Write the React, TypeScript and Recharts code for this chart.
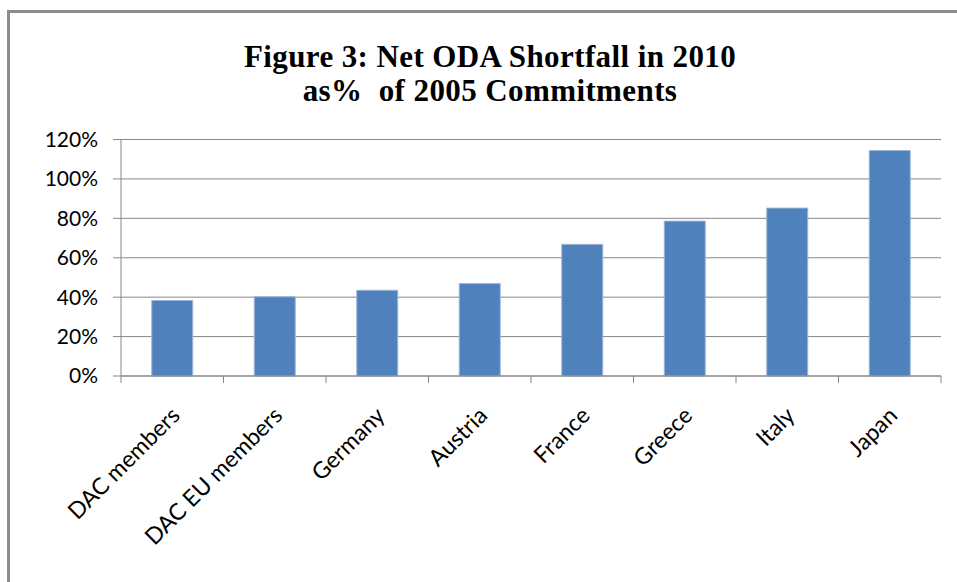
import React from "react";
import { BarChart, Bar, XAxis, YAxis, CartesianGrid } from "recharts";

const categories = [
  "DAC members",
  "DAC EU members",
  "Germany",
  "Austria",
  "France",
  "Greece",
  "Italy",
  "Japan",
];
const shortfall = [0.383, 0.402, 0.435, 0.469, 0.668, 0.786, 0.852, 1.144];
const yTicks = [0, 0.2, 0.4, 0.6, 0.8, 1.0, 1.2];

const W = 957;
const H = 582;
const MARGIN = { top: 139.5, right: 16, left: 0, bottom: 0 };
const Y_AXIS_W = 121;
const X_AXIS_H = H - 376 - MARGIN.bottom;
const HALF_BAND = (W - MARGIN.left - MARGIN.right - Y_AXIS_W) / categories.length / 2;

const AXIS = "#878787";
const BAR = "#4F81BD";
const FONT = "Lato, 'Open Sans', sans-serif";

const data = categories.map((name, i) => ({ name, value: shortfall[i] }));

// category label rotated -45deg plus the tick marks sitting on band edges
const CategoryTick = (props: any) => {
  const { x, y, payload, index } = props;
  const tx = x + 9;
  const ty = y + 41;
  return (
    <g>
      <line x1={x - HALF_BAND} y1={y} x2={x - HALF_BAND} y2={y + 7} stroke={AXIS} />
      {index === categories.length - 1 && (
        <line x1={x + HALF_BAND} y1={y} x2={x + HALF_BAND} y2={y + 7} stroke={AXIS} />
      )}
      <text
        x={tx}
        y={ty}
        transform={`rotate(-45, ${tx}, ${ty})`}
        textAnchor="end"
        fontFamily={FONT}
        fontSize={23}
        fill="#000"
      >
        {payload.value}
      </text>
    </g>
  );
};

export default function App() {
  return (
    <div
      style={{
        position: "fixed",
        left: 0,
        top: 0,
        width: W,
        height: H,
        background: "#fff",
        overflow: "hidden",
      }}
    >
      <div
        style={{
          position: "absolute",
          left: 7,
          top: 10,
          width: 1000,
          height: 700,
          borderLeft: "3px solid #8c8c8c",
          borderTop: "3px solid #8c8c8c",
        }}
      />
      <div
        style={{
          position: "absolute",
          left: 190,
          width: 600,
          top: 40,
          textAlign: "center",
          fontFamily: "'Liberation Serif', 'Times New Roman', serif",
          fontWeight: "bold",
          fontSize: 31,
          letterSpacing: 0.4,
          lineHeight: "34px",
          color: "#000",
        }}
      >
        <div>Figure 3: Net ODA Shortfall in 2010</div>
        <div>as% &nbsp;of 2005 Commitments</div>
      </div>
      <div style={{ position: "absolute", left: 0, top: 0 }}>
        <BarChart width={W} height={H} data={data} margin={MARGIN} barCategoryGap="30%">
          <CartesianGrid vertical={false} stroke={AXIS} strokeWidth={1} />
          <XAxis
            dataKey="name"
            height={X_AXIS_H}
            interval={0}
            tickLine={false}
            tickSize={0}
            tickMargin={0}
            axisLine={{ stroke: AXIS }}
            tick={<CategoryTick />}
          />
          <YAxis
            width={Y_AXIS_W}
            domain={[0, 1.2]}
            ticks={yTicks}
            interval={0}
            tickSize={8}
            tickMargin={15}
            tickLine={{ stroke: AXIS }}
            axisLine={{ stroke: AXIS }}
            tickFormatter={(v: number) => `${Math.round(v * 100)}%`}
            tick={{ fontFamily: FONT, fontSize: 21, fill: "#000" }}
          />
          <Bar
            dataKey="value"
            fill={BAR}
            stroke="#9db7d8"
            strokeWidth={1}
            isAnimationActive={false}
          />
        </BarChart>
      </div>
    </div>
  );
}
